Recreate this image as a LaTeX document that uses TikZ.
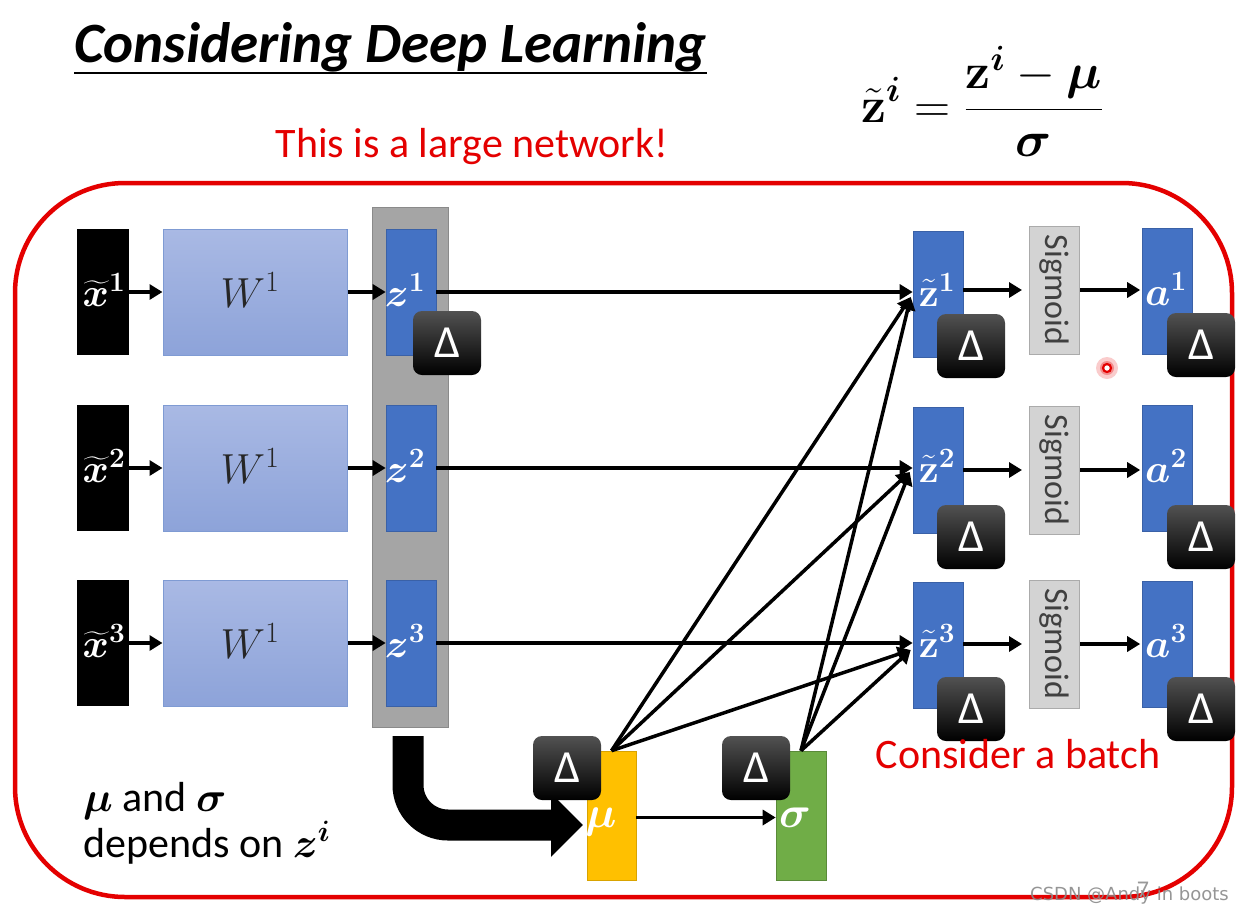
\RequirePackage{fix-cm}
\documentclass[tikz,border=0pt]{standalone}
\usepackage{amsmath}
\usepackage{bm}
\usepackage{graphicx}
\usepackage[no-math]{fontspec}
\setmainfont{Carlito}
\newfontfamily\wmfont{DejaVu Sans}
\usetikzlibrary{arrows.meta}
\definecolor{zblue}{HTML}{4472C4}
\definecolor{wtop}{HTML}{A9B9E4}
\definecolor{wbot}{HTML}{8DA3D9}
\definecolor{wbord}{HTML}{7F9BD3}
\definecolor{colgray}{HTML}{A5A5A5}
\definecolor{colbord}{HTML}{8A8A8A}
\definecolor{sgfill}{HTML}{D3D3D3}
\definecolor{sgbord}{HTML}{ABABAB}
\definecolor{muyel}{HTML}{FFC000}
\definecolor{sggreen}{HTML}{70AD47}
\definecolor{pptred}{RGB}{228,0,0}
\definecolor{wmgray}{HTML}{8A8A8A}
\begin{document}
\begin{tikzpicture}[x=1pt,y=-1pt,
  arr/.style={line width=3.5pt,-{Triangle[length=13pt,width=15pt]}},
  xbox/.style={fill=black,minimum width=52pt,minimum height=126pt,inner sep=0},
  wbox/.style={draw=wbord,line width=1pt,top color=wtop,bottom color=wbot,minimum width=184pt,minimum height=126pt,inner sep=0},
  zbox/.style={fill=zblue,draw=zblue!85!black,line width=0.6pt,minimum width=50pt,minimum height=126pt,inner sep=0},
  sbox/.style={fill=sgfill,draw=sgbord,line width=1pt,minimum width=50pt,minimum height=128pt,inner sep=0,text=black!75,font=\fontsize{34}{36}\selectfont},
  dbox/.style={rounded corners=9pt,top color=black!68,bottom color=black,minimum width=68pt,minimum height=64pt,inner sep=0,text=white,font=\fontsize{46}{50}\selectfont},
  wlbl/.style={inner sep=0,text=white,font=\fontsize{40}{44}\selectfont},
  redtxt/.style={inner sep=0,text=pptred,font=\fontsize{42}{48}\selectfont}
]
\useasboundingbox (0,0) rectangle (1242,919);
\fill[white] (0,0) rectangle (1242,919);

% title
\node[anchor=base west,inner sep=0,font=\fontsize{57}{62}\selectfont\bfseries\itshape] (title) at (74,62) {Considering Deep Learning};
\draw[line width=2.2pt] ([yshift=-11pt]title.base west) -- ([yshift=-11pt]title.base east);

\node[redtxt,anchor=base] (net) at (472,157) {This is a large network!};

% formula
\node[anchor=base,inner sep=0,font=\fontsize{50}{60}\selectfont] (eq) at (982,122)
 {$\displaystyle \tilde{\mathbf{z}}^{\bm i} = \frac{\mathbf{z}^{\bm i}-\bm{\mu}}{\bm{\sigma}}$};

% red frame
\draw[pptred,line width=4.5pt,rounded corners=110pt] (15,183) rectangle (1232,897);

% gray column
\node[fill=colgray,draw=colbord,line width=1pt,minimum width=76pt,minimum height=520pt,inner sep=0] (gc) at (410,467) {};

% rows
\foreach \i/\y/\yt/\ys/\ya in {1/292/294/290/291,2/468/470/470/468,3/643/645/644/644}{
  \node[xbox] (x\i) at (103,\y) {};
  \node[wbox] (w\i) at (255,\y) {};
  \node[zbox] (z\i) at (411,\y) {};
  \node[zbox] (zt\i) at (938,\yt) {};
  \node[sbox] (s\i) at (1054.5,\ys) {\rotatebox{-90}{Sigmoid}};
  \node[zbox] (a\i) at (1167.5,\ya) {};
}
\node[fill=muyel,draw=muyel!85!black,line width=0.6pt,minimum width=49pt,minimum height=129pt,inner sep=0] (mu) at (611.5,815.5) {};
\node[fill=sggreen,draw=sggreen!80!black,line width=0.6pt,minimum width=50pt,minimum height=129pt,inner sep=0] (sg) at (801,815.5) {};

% arrows
\foreach \i in {1,2,3}{
  \draw[arr] (x\i.east) -- (w\i.west);
  \draw[arr] (w\i.east) -- (z\i.west);
  \draw[arr] (z\i.east) -- (z\i.east -| zt\i.west);
  \draw[arr,shorten >=7pt] (zt\i.east |- s\i.west) -- (s\i.west);
  \draw[arr,shorten >=2pt] (s\i.east) -- (s\i.east -| a\i.west);
}
\draw[arr] (mu.north) -- ([shift={(-2pt,-3pt)}]zt1.west);
\draw[arr] (mu.north) -- ([shift={(-3pt,-2pt)}]zt2.west);
\draw[arr] (mu.north) -- ([shift={(-2pt,-5pt)}]zt3.west);
\draw[arr] (sg.north) -- ([shift={(-2pt,-3pt)}]zt1.west);
\draw[arr] (sg.north) -- ([shift={(-3pt,-2pt)}]zt2.west);
\draw[arr] (sg.north) -- ([shift={(-2pt,-5pt)}]zt3.west);
\draw[arr] ([yshift=-2pt]mu.east) -- ([yshift=-2pt]mu.east -| sg.west);

% big bent arrow
\coordinate (bs) at (408,736);
\coordinate (bt) at (583,825);
\draw[line width=31pt,rounded corners=40pt,-{Triangle[length=32pt,width=62pt]}] (bs) |- (bt);

% labels
\foreach \i/\y/\yt/\ya in {1/290/290/289,2/466/466/466,3/641/641/641}{
  \node[wlbl] (lx\i) at (104,\y) {$\widetilde{\bm{x}}^{\mathbf{\i}}$};
  \node[inner sep=0,text=black!85,font=\fontsize{42}{46}\selectfont] (lw\i) at (250,\y) {$W^1$};
  \node[wlbl] (lz\i) at (405,\y) {$\bm{z}^{\mathbf{\i}}$};
  \node[wlbl] (lzt\i) at (937,\yt) {$\tilde{\mathbf{z}}^{\mathbf{\i}}$};
  \node[wlbl] (la\i) at (1166,\ya) {$\bm{a}^{\mathbf{\i}}$};
}
\node[wlbl,font=\fontsize{44}{48}\selectfont] (lmu) at (601,822) {$\bm{\mu}$};
\node[wlbl,font=\fontsize{44}{48}\selectfont] (lsg) at (795,818) {$\bm{\sigma}$};

% delta boxes
\node[dbox] (dz1) at (447,343) {Δ};
\node[dbox] (dzt1) at (971,346) {Δ};
\node[dbox] (dzt2) at (971,537) {Δ};
\node[dbox] (dzt3) at (971,709) {Δ};
\node[dbox] (da1) at (1201,345) {Δ};
\node[dbox] (da2) at (1201,537) {Δ};
\node[dbox] (da3) at (1201,709) {Δ};
\node[dbox] (dmu) at (567,768) {Δ};
\node[dbox] (dsg) at (756,768) {Δ};

% texts
\node[redtxt,anchor=base] (batch) at (1018,768) {Consider a batch};
\node[anchor=base west,inner sep=0,align=left,font=\fontsize{42}{46}\selectfont] (dep) at (83,857)
 {$\bm{\mu}$ and $\bm{\sigma}$\\depends on $\bm{z}^{\bm i}$};

% laser pointer
\fill[pptred!20] (1107,368) circle (11pt);
\fill[pptred!45] (1107,368) circle (7pt);
\draw[pptred,line width=2.2pt,fill=white] (1107,368) circle (4pt);

% slide number and watermark
\node[anchor=base,inner sep=0,text=black!40,font=\fontsize{24}{26}\selectfont] (num) at (1143,897) {7};
\node[anchor=base west,inner sep=0,text=wmgray,opacity=0.9,font=\wmfont\fontsize{18}{20}\selectfont] (wm) at (1030,900) {CSDN @Andy in boots};
\end{tikzpicture}
\end{document}
